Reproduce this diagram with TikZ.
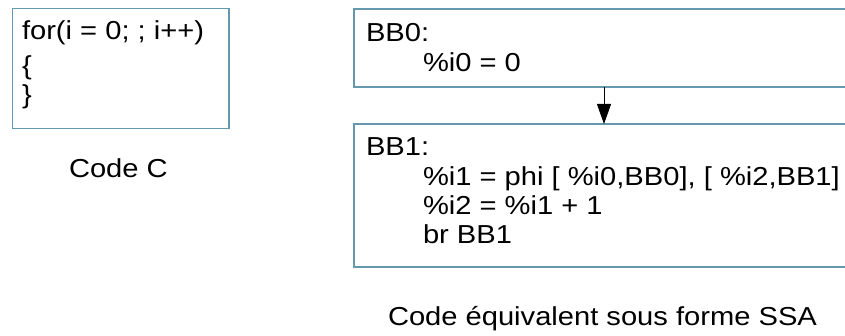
\documentclass[tikz,border=0pt]{standalone}
\usepackage{fontspec}
\setmainfont[FakeStretch=1.12]{Liberation Sans}
\usetikzlibrary{arrows.meta}
\definecolor{boxcol}{RGB}{100,152,172}
\begin{document}
\begin{tikzpicture}[x=1pt,y=-1pt,
  txt/.style={anchor=base west,inner sep=0pt,outer sep=0pt,font=\fontsize{26}{30}\selectfont},
  frame/.style={draw=boxcol,line width=1.4pt},
  openbox/.style={inner sep=0pt,outer sep=0pt,draw=none},
  flow/.style={draw=black,line width=0.8pt,-{Triangle[width=14pt,length=20pt]}}]
\useasboundingbox[fill=white] (0,0) rectangle (845,336);
% left box
\node[openbox,frame,minimum width=216.5pt,minimum height=120pt] (cbox) at (120.75,68.5) {};
\node[txt] (c1) at (22,40) {for(i = 0; ; i++)};
\node[txt] (c2) at (22,75) {\{};
\node[txt] (c3) at (22,104) {\}};
\node[txt] (capc) at (69,178) {Code C};
% BB0
\node[openbox,minimum width=491pt,minimum height=78pt] (bb0) at (599.5,48) {};
\draw[frame] (bb0.north east) -- (bb0.north west) -- (bb0.south west) -- (bb0.south east);
\node[txt] (b0a) at (366,42) {BB0:};
\node[txt] (b0b) at (423,72) {\%i0 = 0};
% BB1
\node[openbox,minimum width=491pt,minimum height=143pt] (bb1) at (599.5,195.5) {};
\draw[frame] (bb1.north east) -- (bb1.north west) -- (bb1.south west) -- (bb1.south east);
\node[txt] (b1a) at (366,156) {BB1:};
\node[txt] (b1b) at (423,186) {\%i1 = phi [ \%i0,BB0], [ \%i2,BB1]};
\node[txt] (b1c) at (423,215) {\%i2 = \%i1 + 1};
\node[txt] (b1d) at (423,244) {br BB1};
\node[txt] (capssa) at (388,325) {Code équivalent sous forme SSA};
% arrow
\draw[flow] ([xshift=4.5pt]bb0.south) -- ([xshift=4.5pt]bb1.north);
\end{tikzpicture}
\end{document}
